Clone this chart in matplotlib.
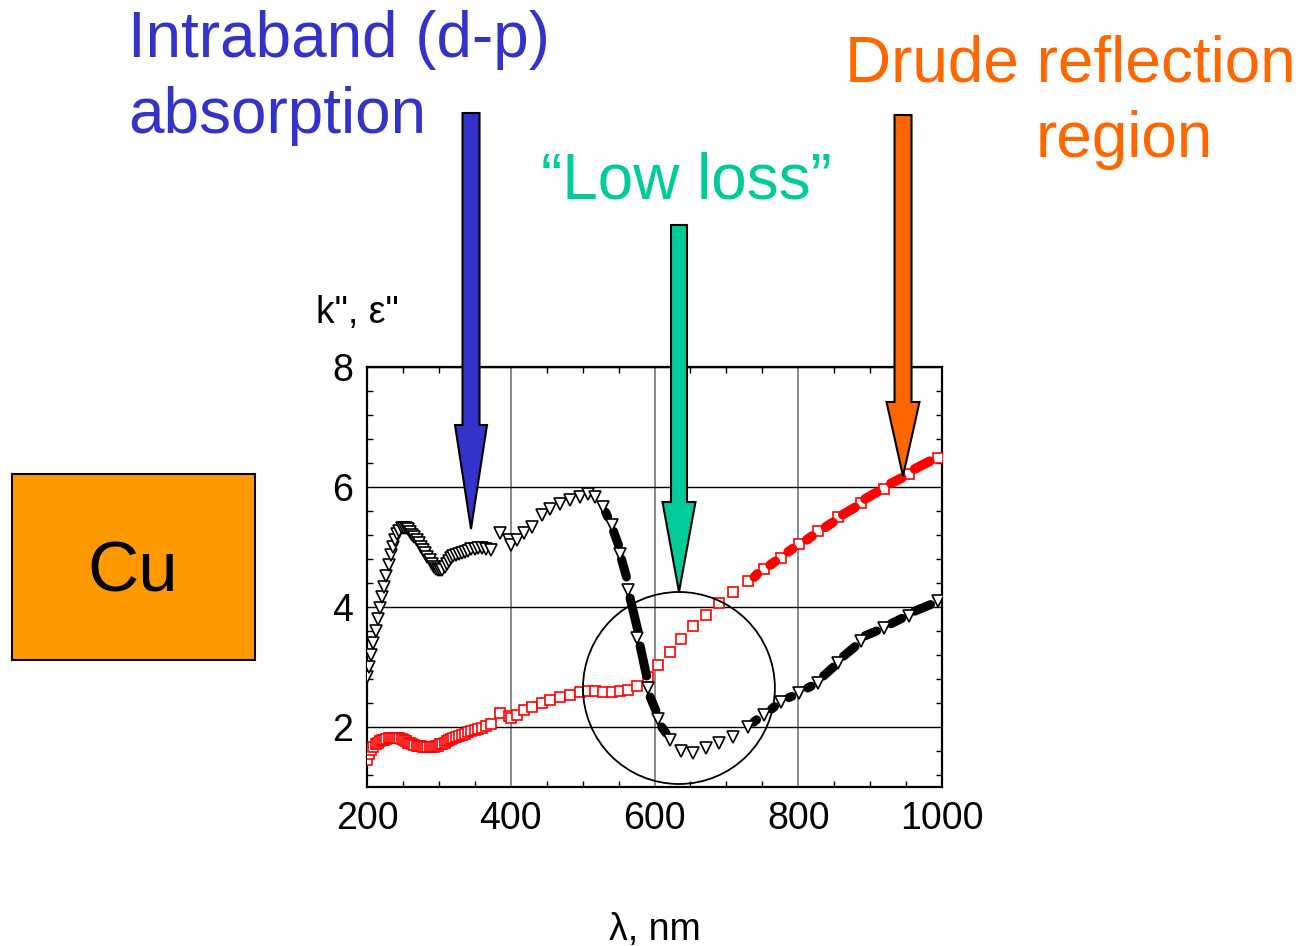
import matplotlib
matplotlib.use("Agg")
import matplotlib.pyplot as plt
import numpy as np
from matplotlib.patches import Polygon, Rectangle, Ellipse
from matplotlib.ticker import MultipleLocator

plt.rcParams["font.family"] = ["Liberation Sans", "DejaVu Sans"]

W, H = 1298, 946

# wavelengths (nm) shared by both series
wavelength = [200, 203, 206, 209, 212, 215, 218, 221, 224, 227, 230, 233, 236,
              239, 242, 245, 248, 251, 254, 257, 260, 263, 266, 269, 272, 275,
              278, 281, 284, 287, 290, 293, 296, 299, 302, 305, 308, 311, 314,
              317, 320, 324, 328, 332, 336, 340, 345, 350, 355, 360, 366, 373,
              385, 397, 401, 408, 418, 429, 443, 455, 468, 482, 496, 508, 517,
              528, 541, 552, 563, 575, 591, 605, 621, 637, 654, 671, 690, 709,
              730, 752, 776, 801, 828, 855, 887, 919, 954, 994]

# eps'' (open triangles)
eps_val = [2.83, 3.0, 3.2, 3.4, 3.6, 3.8, 3.98, 4.16, 4.34, 4.52, 4.7, 4.86,
           5.0, 5.12, 5.21, 5.27, 5.31, 5.32, 5.32, 5.3, 5.25, 5.2, 5.16,
           5.11, 5.06, 5.0, 4.95, 4.9, 4.84, 4.78, 4.72, 4.67, 4.64, 4.62,
           4.61, 4.62, 4.66, 4.71, 4.77, 4.82, 4.85, 4.87, 4.89, 4.9, 4.92,
           4.94, 4.96, 4.97, 4.98, 4.98, 4.97, 4.95,
           5.23, 5.12, 5.03, 5.12, 5.23, 5.34, 5.53, 5.64, 5.72, 5.79, 5.84,
           5.88, 5.84, 5.67, 5.37, 4.89, 4.28, 3.48, 2.65, 2.13, 1.78, 1.6,
           1.57, 1.65, 1.73, 1.83, 2.0, 2.2, 2.42, 2.57, 2.73, 3.07, 3.43,
           3.65, 3.85, 4.1]

# k'' (open squares)
k_val = [1.45, 1.55, 1.62, 1.67, 1.71, 1.74, 1.76, 1.78, 1.79, 1.8, 1.81,
         1.82, 1.82, 1.82, 1.82, 1.81, 1.8, 1.78, 1.76, 1.74, 1.73, 1.71,
         1.7, 1.69, 1.68, 1.68, 1.67, 1.67, 1.66, 1.66, 1.66, 1.67, 1.68,
         1.69, 1.71, 1.72, 1.74, 1.76, 1.78, 1.8, 1.81, 1.83, 1.85, 1.87,
         1.89, 1.91, 1.93, 1.95, 1.97, 1.99, 2.02, 2.05,
         2.23, 2.18, 2.15, 2.2, 2.28, 2.33, 2.4, 2.45, 2.5, 2.54, 2.58, 2.6,
         2.6, 2.59, 2.58, 2.6, 2.62, 2.68, 2.83, 3.03, 3.25, 3.47, 3.68,
         3.87, 4.07, 4.25, 4.43, 4.63, 4.82, 5.05, 5.27, 5.5, 5.73, 5.97,
         6.22, 6.48]

# dense filled points, drawn as short runs (nan breaks the runs)
eps_fill_wl = [532, 535, np.nan, 543, 550, np.nan, 554, 561, np.nan, 566, 577,
               np.nan, 580, 589, np.nan, 594, 602, np.nan, 610, 616, np.nan,
               738, 742, np.nan, 763, 767, np.nan, 787, 791, np.nan, 813, 818,
               np.nan, 835, 849, np.nan, 863, 879, np.nan, 893, 909, np.nan,
               929, 944, np.nan, 962, 984]
eps_fill_val = [5.58, 5.5, np.nan, 5.26, 5.03, np.nan, 4.8, 4.5, np.nan, 4.15,
                3.6, np.nan, 3.35, 2.85, np.nan, 2.5, 2.27, np.nan, 2.0, 1.9,
                np.nan, 2.08, 2.12, np.nan, 2.3, 2.34, np.nan, 2.49, 2.51,
                np.nan, 2.65, 2.68, np.nan, 2.85, 3.0, np.nan, 3.18, 3.34,
                np.nan, 3.52, 3.6, np.nan, 3.72, 3.81, np.nan, 3.93, 4.04]
k_fill_wl = [739, 743, np.nan, 761, 768, np.nan, 786, 792, np.nan, 812, 819,
             np.nan, 838, 848, np.nan, 862, 879, np.nan, 893, 909, np.nan,
             929, 944, np.nan, 962, 983]
k_fill_val = [4.5, 4.55, np.nan, 4.7, 4.76, np.nan, 4.92, 4.97, np.nan, 5.12,
              5.18, np.nan, 5.33, 5.41, np.nan, 5.54, 5.66, np.nan, 5.8, 5.91,
              np.nan, 6.06, 6.15, np.nan, 6.3, 6.43]

x_ticks = [200, 400, 600, 800, 1000]
y_ticks = [2, 4, 6, 8]

BLUE = "#3333CC"
GREEN = "#00CC99"
ORANGE = "#FF6600"
CU_BOX = "#FF9900"


def fx(x):
    return x / W


def fy(y):
    return 1 - y / H


def arrow(ax_x, top, base, tip, shaft_w, head_w, color):
    pts = [(ax_x - shaft_w / 2, top), (ax_x + shaft_w / 2, top),
           (ax_x + shaft_w / 2, base), (ax_x + head_w / 2, base),
           (ax_x, tip), (ax_x - head_w / 2, base),
           (ax_x - shaft_w / 2, base)]
    poly = Polygon([(fx(a), fy(b)) for a, b in pts], closed=True,
                   transform=fig.transFigure, facecolor=color,
                   edgecolor="black", lw=1.5, zorder=5)
    fig.add_artist(poly)


fig = plt.figure(figsize=(W / 100, H / 100), dpi=100)
ax = fig.add_axes([fx(367), fy(787), 575 / W, 420 / H])

ax.plot(wavelength, k_val, ls="none", marker="s", ms=7, mfc="white",
        mec="#FF0000", mew=1.2, zorder=3)
ax.plot(k_fill_wl, k_fill_val, color="#FF0000", lw=7,
        solid_capstyle="round", zorder=3)
ax.plot(eps_fill_wl, eps_fill_val, color="black", lw=6.5,
        solid_capstyle="round", zorder=4)
ax.plot(wavelength, eps_val, ls="none", marker="v", ms=8.5, mfc="white",
        mec="black", mew=1.2, zorder=4)

ax.add_patch(Ellipse((634, 2.65), 267, 3.2, fill=False, ec="black", lw=1.3,
                     zorder=5, clip_on=False))

ax.set_xlim(200, 1000)
ax.set_ylim(1, 8)
ax.set_xticks(x_ticks)
ax.set_yticks(y_ticks)
ax.xaxis.set_minor_locator(MultipleLocator(50))
ax.yaxis.set_minor_locator(MultipleLocator(0.4))
ax.tick_params(which="both", direction="in", top=True, right=True)
ax.tick_params(which="major", length=0, labelsize=27, pad=10)
ax.tick_params(which="minor", length=4, width=1)
ax.xaxis.grid(True, color="#808080", lw=1.3)
ax.yaxis.grid(True, color="black", lw=1.0)
ax.set_axisbelow(True)
for s in ax.spines.values():
    s.set_linewidth(1.6)

fig.text(fx(316), fy(323), 'k", ε"', fontsize=27, va="baseline")
fig.text(fx(655), fy(940), "λ, nm", fontsize=27, ha="center", va="baseline")

# annotation text
fig.text(fx(128), fy(57), "Intraband (d-p)", fontsize=46, color=BLUE,
         va="baseline")
fig.text(fx(128), fy(133), "absorption", fontsize=46, color=BLUE,
         va="baseline")
fig.text(fx(845), fy(82), "Drude reflection", fontsize=46, color=ORANGE,
         va="baseline")
fig.text(fx(1036), fy(157), "region", fontsize=46, color=ORANGE,
         va="baseline")
fig.text(fx(541), fy(198), "\u201cLow loss\u201d", fontsize=46, color=GREEN,
         va="baseline")

arrow(471, 113, 425, 529, 17, 32, BLUE)
arrow(679, 225, 502, 592, 16, 33, GREEN)
arrow(903, 115, 402, 476, 17, 33, ORANGE)

fig.add_artist(Rectangle((fx(12), fy(660)), (255 - 12) / W, (660 - 474) / H,
                         transform=fig.transFigure, facecolor=CU_BOX,
                         edgecolor="black", lw=1.5))
fig.text(fx(133), fy(592), "Cu", fontsize=51, ha="center", va="baseline")

fig.savefig("out.png", dpi=100)
